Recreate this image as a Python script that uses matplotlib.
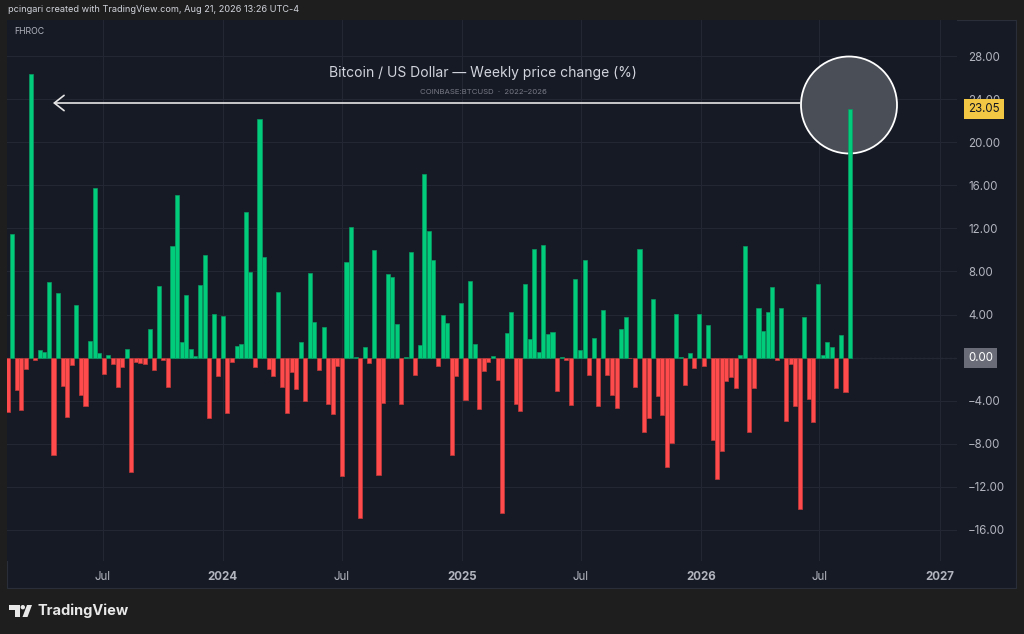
import numpy as np
import pandas as pd
import matplotlib
matplotlib.use('Agg')
import matplotlib.pyplot as plt
import matplotlib.dates as mdates
from matplotlib.patches import Rectangle, Ellipse, Polygon

plt.rcParams['font.family'] = ['Inter', 'DejaVu Sans']

# weekly % change, one bar per week starting Monday
first_week = '2023-02-06'
pct_change = [
    -5.05, 11.47, -3.04, -4.84, -1.02, 26.3, -0.25, 0.68, 0.5, 7.0,
    -9.08, 6.0, -2.67, -5.52, -0.71, 4.93, -3.44, -4.47, 1.52, 15.78,
    0.4, -1.49, 0.25, -0.62, -2.73, -0.87, 0.78, -10.64, -0.4, -0.5,
    -0.56, 2.7, -1.12, 6.64, -0.25, -2.73, 10.36, 15.1, 1.43, 5.83,
    0.81, 0.12, 6.73, 9.52, -5.61, 4.03, -1.74, 3.91, -5.18, -0.37,
    1.12, 1.24, 13.52, 7.94, -0.84, 22.14, 9.3, -1.02, -1.67, 6.08,
    -2.76, -5.18, -1.3, -2.88, 1.43, -4.03, 7.84, 3.35, -1.1, 2.82,
    -4.32, -5.21, -0.81, -10.95, 8.87, 12.12, 0.09, -14.88, 0.99, -0.5,
    9.95, -10.88, -4.25, 7.75, 7.53, 3.16, -4.31, 0.06, 9.83, -1.61,
    1.15, 17.02, 11.75, 9.05, -0.81, 4.0, 3.22, -9.02, -1.67, 5.12,
    -3.94, 7.1, 1.3, -4.81, -1.27, -0.4, 0.12, -2.11, -14.45, 2.26,
    4.28, -4.34, -4.93, 6.82, 1.71, 10.08, 0.5, 10.48, 2.23, 2.39,
    -3.13, 0.09, -0.19, -4.4, 7.32, 0.74, 9.05, -1.58, 1.86, -4.47,
    4.43, -1.58, -3.47, -4.65, 2.64, 3.75, -0.05, -2.73, 10.08, -6.88,
    -5.58, 5.4, -3.57, -5.33, -10.11, -7.91, 4.06, 0.03, -2.51, 0.47,
    -0.93, 4.06, -0.74, 3.01, -7.63, -11.26, -8.68, -2.17, -1.77, -2.79,
    0.25, 10.39, -6.91, -2.82, 4.59, 2.48, 4.28, 6.54, -0.22, 4.59,
    -5.89, -0.59, -4.5, -14.05, 3.75, -3.81, -5.95, 6.88, 0.22, 1.43,
    0.99, -2.85, 2.08, -3.16, 23.05,
]
tick_dates = ['2023-07-01', '2024-01-01', '2024-07-01', '2025-01-01',
              '2025-07-01', '2026-01-01', '2026-07-01', '2027-01-01']
tick_labels = ['Jul', '2024', 'Jul', '2025', 'Jul', '2026', 'Jul', '2027']
price_ticks = [-16, -12, -8, -4, 0, 4, 8, 12, 16, 20, 24, 28]
last_value = pct_change[-1]

BG_OUT = '#1e1e1e'
BG = '#161a25'
GRID = '#232733'
TXT = '#b2b5be'
GREEN, GREEN_EDGE = '#00cc7c', '#0b9a63'
RED, RED_EDGE = '#ff4b4b', '#c43a3a'

W, H = 1024, 634


def fx(px):
    return px / W


def fy(py):
    return 1 - py / H


fig = plt.figure(figsize=(10.24, 6.34), dpi=100, facecolor=BG_OUT)

# chart panel
fig.patches.append(Rectangle((fx(7), fy(588)), fx(1016) - fx(7), fy(20) - fy(588),
                             transform=fig.transFigure, facecolor=BG,
                             edgecolor='#2a2e39', lw=0.8, zorder=-1))

ax = fig.add_axes([fx(7), fy(561), fx(957) - fx(7), fy(20) - fy(561)])
ax.set_facecolor(BG)
for s in ax.spines.values():
    s.set_visible(False)

weeks = pd.date_range(first_week, periods=len(pct_change), freq='7D')
vals = np.array(pct_change)
up = vals >= 0
ax.bar(weeks, vals, width=6.2,
       color=np.where(up, GREEN, RED), edgecolor=np.where(up, GREEN_EDGE, RED_EDGE),
       linewidth=0.5, zorder=3)

start = mdates.date2num(weeks[0])
ax.set_xlim(start - 1.07, start + 1451.5)
ax.set_ylim(-18.88, 31.35)

ax.axhline(0, color='#5d606b', ls=(0, (2, 2)), lw=0.8, zorder=1)

# time axis
ax.set_xticks(mdates.date2num(pd.to_datetime(tick_dates)))
ax.set_xticklabels(tick_labels)
for lab in ax.get_xticklabels():
    if lab.get_text().isdigit():
        lab.set_fontweight('bold')
ax.tick_params(axis='x', length=0, pad=7, labelsize=8.3, labelcolor=TXT)

# price scale
ax.yaxis.tick_right()
ax.set_yticks(price_ticks)
ax.set_yticklabels(['' if v == 0 else f'{v:.2f}'.replace('-', '\u2212') for v in price_ticks])
ax.tick_params(axis='y', length=0, pad=8, labelsize=8.3, labelcolor=TXT)
ax.grid(True, color=GRID, lw=0.8, zorder=0)

ytr = ax.get_yaxis_transform()
ax.text(1.0116, 0, '0.00', transform=ytr, ha='left', va='center', fontsize=8.3,
        color='white', clip_on=False, zorder=6,
        bbox=dict(boxstyle='square,pad=0.35', fc='#6a6d78', ec='none'))
ax.text(1.0116, last_value, f'{last_value:.2f}', transform=ytr, ha='left', va='center',
        fontsize=8.3, color='#131722', clip_on=False, zorder=6,
        bbox=dict(boxstyle='square,pad=0.35', fc='#f2c744', ec='none'))

# highlight circle and arrow
ax.add_patch(Ellipse((fx(849), fy(105)), 96 / W, 97 / H, transform=fig.transFigure,
                     facecolor='#4a4e57', edgecolor='white', lw=1.3, zorder=2,
                     clip_on=False))
ax.annotate('', xy=(fx(53), fy(103)), xytext=(fx(800), fy(103)),
            xycoords='figure fraction', textcoords='figure fraction',
            arrowprops=dict(arrowstyle='->,head_length=0.7,head_width=0.55',
                            color='#e6e6e6', lw=1.2, shrinkA=0, shrinkB=0),
            zorder=4)

# titles
fig.text(fx(483), fy(73), 'Bitcoin / US Dollar \u2014 Weekly price change (%)',
         ha='center', va='center', color='#d1d4dc', fontsize=10)
fig.text(fx(483), fy(92), 'COINBASE:BTCUSD  \u00b7  2022\u20132026',
         ha='center', va='center', color='#787b86', fontsize=5.6)
fig.text(fx(8), fy(10), 'pcingari created with TradingView.com, Aug 21, 2026 13:26 UTC-4',
         ha='left', va='center', color='#d1d4dc', fontsize=6.6)
fig.text(fx(14), fy(32), 'FHROC', ha='left', va='center', color=TXT, fontsize=6.3)

# TradingView logo
logo = '#e8e8e8'
fig.patches.append(Polygon([(fx(9), fy(605)), (fx(19.5), fy(605)), (fx(19.5), fy(617)),
                            (fx(15), fy(617)), (fx(15), fy(609.5)), (fx(9), fy(609.5))],
                           closed=True, transform=fig.transFigure, fc=logo, ec='none'))
fig.patches.append(Ellipse((fx(22.8), fy(607.2)), 4.4 / W, 4.4 / H,
                           transform=fig.transFigure, fc=logo, ec='none'))
fig.patches.append(Polygon([(fx(27), fy(605)), (fx(32), fy(605)), (fx(27.5), fy(617)),
                            (fx(22.5), fy(617))],
                           closed=True, transform=fig.transFigure, fc=logo, ec='none'))
fig.text(fx(37), fy(611), 'TradingView', ha='left', va='center', color=logo,
         fontsize=10.5, fontweight='bold')

fig.savefig('out.png', dpi=100, facecolor=fig.get_facecolor())
